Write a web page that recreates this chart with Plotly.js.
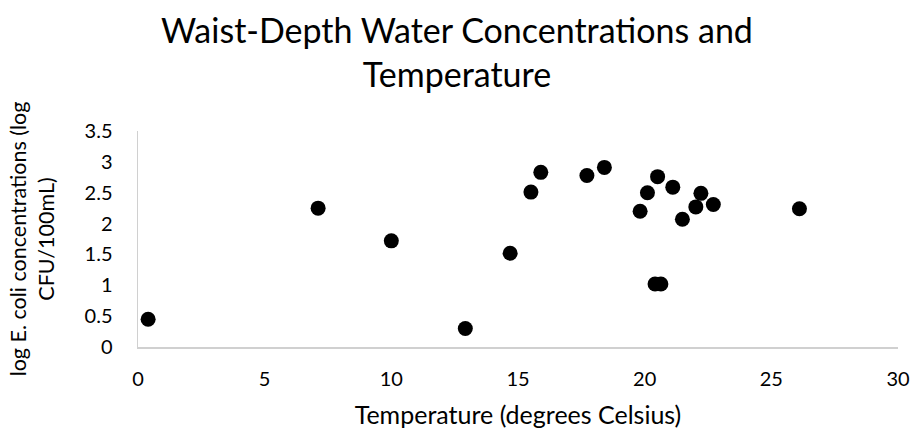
<!DOCTYPE html>
<html>
<head>
<meta charset="utf-8">
<script src="https://cdn.plot.ly/plotly-3.0.1.min.js"></script>
<style>html,body{margin:0;padding:0;background:#fff;}#chart{width:914px;height:431px;}</style>
</head>
<body>
<div id="chart"></div>
<script>
var temperature = [0.40, 7.11, 10.0, 12.92, 14.69, 15.51, 15.90, 17.72, 18.41, 19.82, 20.11, 20.51, 20.41, 20.64, 21.11, 21.49, 22.02, 22.22, 22.71, 26.11];
var logEcoli =    [0.45, 2.25, 1.72, 0.30, 1.52, 2.51, 2.83, 2.78, 2.91, 2.20, 2.50, 2.76, 1.02, 1.02, 2.59, 2.07, 2.27, 2.49, 2.31, 2.24];
var xTicks = [0, 5, 10, 15, 20, 25, 30];
var yTicks = [0, 0.5, 1, 1.5, 2, 2.5, 3, 3.5];
var yTickLabels = ["0", "0.5", "1", "1.5", "2", "2.5", "3", "3.5"];

var fontFam = "Lato, 'Open Sans', sans-serif";
var trace = {
  x: temperature, y: logEcoli, type: 'scatter', mode: 'markers',
  marker: {color: '#000000', size: 15, line: {width: 0}}
};
var layout = {
  width: 914, height: 431,
  margin: {l: 137.5, r: 16, t: 131, b: 84},
  paper_bgcolor: '#ffffff', plot_bgcolor: '#ffffff',
  showlegend: false,
  font: {family: fontFam, color: '#000000'},
  title: {text: 'Waist-Depth Water Concentrations and<br>Temperature', x: 0.5, xanchor: 'center', y: 0.90, yanchor: 'top',
          font: {family: fontFam, size: 34, color: '#000000'}},
  xaxis: {
    range: [0, 30], tickvals: xTicks, ticktext: xTicks.map(String),
    showgrid: false, zeroline: false, showline: true, linecolor: '#d0d0d0', linewidth: 1.5,
    ticks: '', tickfont: {family: fontFam, size: 20, color: '#000'}, ticklabelstandoff: 13,
    title: {text: 'Temperature (degrees Celsius)', font: {family: fontFam, size: 25, color: '#000'}, standoff: 18}
  },
  yaxis: {
    range: [0, 3.5], tickvals: yTicks, ticktext: yTickLabels,
    showgrid: false, zeroline: false, showline: true, linecolor: '#d0d0d0', linewidth: 1.5,
    ticks: '', tickfont: {family: fontFam, size: 20, color: '#000'}, ticklabelstandoff: 20,
    title: {text: 'log E. coli concentrations (log<br>CFU/100mL)', font: {family: fontFam, size: 21.5, color: '#000'}, standoff: 24}
  }
};
Plotly.newPlot('chart', [trace], layout, {displayModeBar: false, staticPlot: true});
</script>
</body>
</html>
